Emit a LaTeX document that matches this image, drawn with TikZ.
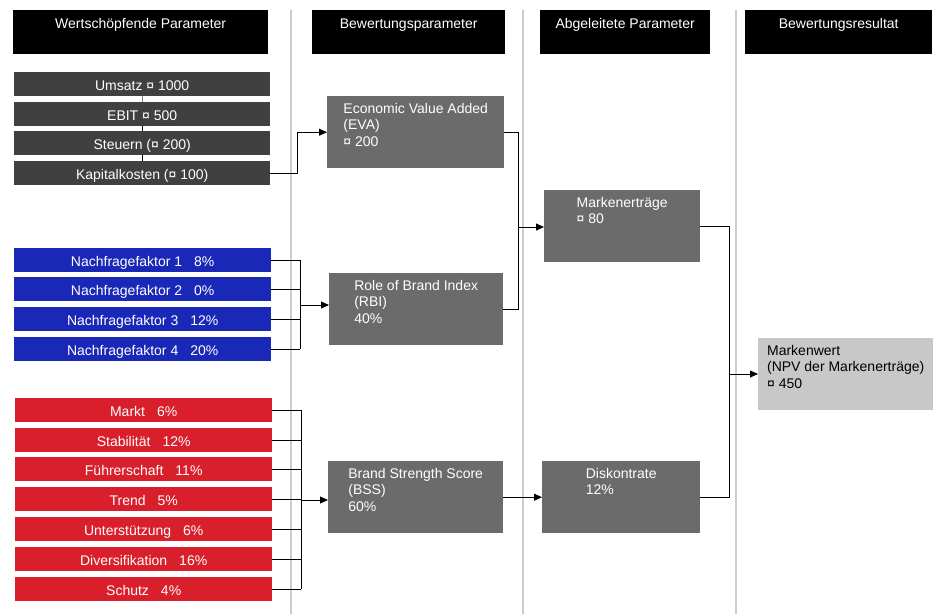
\documentclass[tikz,border=0pt]{standalone}
\usepackage{fontspec}
\setmainfont{Liberation Sans}
\usetikzlibrary{arrows.meta}

\definecolor{valgray}{HTML}{404040}
\definecolor{pargray}{HTML}{6B6B6B}
\definecolor{resgray}{HTML}{C8C8C8}
\definecolor{nfblue}{HTML}{1A28B8}
\definecolor{bsred}{HTML}{D91F2B}
\definecolor{sepgray}{HTML}{CCCCCC}

\tikzset{
  every node/.style={font=\fontsize{14}{16.5}\selectfont, inner sep=0pt},
  hdrbox/.style={fill=black, anchor=north west, minimum height=44},
  bar/.style={anchor=north west, minimum width=256, minimum height=24, text=white,
              text height=13pt, text depth=0pt},
  parbox/.style={fill=pargray, anchor=north west, minimum height=72},
  partext/.style={align=left, text=white, below=7pt},
  conn/.style={-{Triangle[length=8pt,width=7pt]}, line width=0.8pt},
  tie/.style={line width=0.8pt}
}

\begin{document}
\begin{tikzpicture}[x=1pt,y=-1pt]
\useasboundingbox (0,0) rectangle (939,614);

% Trennlinien
\draw[sepgray, line width=2pt] (291,10) -- (291,614);
\draw[sepgray, line width=2pt] (523,10) -- (523,614);
\draw[sepgray, line width=2pt] (736,10) -- (736,614);

% Kopfzeilen
\node[hdrbox, minimum width=255] (h1) at (13,10) {};
\node[hdrbox, minimum width=193] (h2) at (312,10) {};
\node[hdrbox, minimum width=170] (h3) at (540,10) {};
\node[hdrbox, minimum width=187] (h4) at (745,10) {};
\node[white, anchor=base] at ([yshift=-18pt]h1.north) {Wertschöpfende Parameter};
\node[white, anchor=base] at ([yshift=-18pt]h2.north) {Bewertungsparameter};
\node[white, anchor=base] at ([yshift=-18pt]h3.north) {Abgeleitete Parameter};
\node[white, anchor=base] at ([yshift=-18pt]h4.north) {Bewertungsresultat};

% Wertschoepfende Parameter
\node[bar, fill=valgray] (umsatz) at (14,72) {Umsatz ¤ 1000};
\node[bar, fill=valgray] (ebit) at (14,102) {EBIT ¤ 500};
\node[bar, fill=valgray] (steuern) at (14,131) {Steuern (¤ 200)};
\node[bar, fill=valgray] (kapital) at (14,161) {Kapitalkosten (¤ 100)};
\draw[gray, line width=0.8pt] (umsatz.south) -- (ebit.north);
\draw[line width=1.2pt] (ebit.south) -- (steuern.north);
\draw[line width=1.2pt] (steuern.south) -- (kapital.north);

% Nachfragefaktoren
\foreach \i/\y/\t in {1/248/{Nachfragefaktor 1\hspace{12pt}8\%},
                      2/277/{Nachfragefaktor 2\hspace{12pt}0\%},
                      3/307/{Nachfragefaktor 3\hspace{12pt}12\%},
                      4/337/{Nachfragefaktor 4\hspace{12pt}20\%}}
    \node[bar, fill=nfblue, minimum width=257] (nf\i) at (14,\y) {\t};

% Markenstaerke
\foreach \n/\y/\t in {markt/398/{Markt\hspace{12pt}6\%},
                      stab/428/{Stabilität\hspace{12pt}12\%},
                      fuehr/457/{Führerschaft\hspace{12pt}11\%},
                      trend/487/{Trend\hspace{12pt}5\%},
                      unter/517/{Unterstützung\hspace{12pt}6\%},
                      divers/547/{Diversifikation\hspace{12pt}16\%},
                      schutz/577/{Schutz\hspace{12pt}4\%}}
    \node[bar, fill=bsred, minimum width=257] (\n) at (15,\y) {\t};

% Bewertungsparameter
\node[parbox, minimum width=177] (eva) at (327,96) {};
\node[partext] at (eva.north) {Economic Value Added\\(EVA)\\¤ 200};
\node[parbox, minimum width=174] (rbi) at (329,273) {};
\node[partext] at (rbi.north) {Role of Brand Index\\(RBI)\\40\%};
\node[parbox, minimum width=175] (bss) at (328,461) {};
\node[partext] at (bss.north) {Brand Strength Score\\(BSS)\\60\%};

% Abgeleitete Parameter
\node[parbox, minimum width=156] (me) at (544,190) {};
\node[partext] at (me.north) {Markenerträge\\¤ 80};
\node[parbox, minimum width=158] (disk) at (542,461) {};
\node[partext] at (disk.north) {Diskontrate\\12\%};

% Bewertungsresultat
\node[parbox, fill=resgray, minimum width=175] (mw) at (758,338) {};
\node[partext, text=black] at (mw.north) {Markenwert\\(NPV der Markenerträge)\\¤ 450};

% Verbindungen
\draw[conn] (kapital.east) -- ++(27,0) |- (eva.west);

\coordinate (nfjoin) at (300,305);
\foreach \i in {1,...,4}
    \draw[tie] (nf\i.east) -- (nf\i.east -| nfjoin);
\draw[tie] (nf1.east -| nfjoin) -- (nf4.east -| nfjoin);
\draw[conn] (nfjoin) -- (nfjoin -| rbi.west);

\coordinate (bsjoin) at (301,500);
\foreach \n in {markt,stab,fuehr,trend,unter,divers,schutz}
    \draw[tie] (\n.east) -- (\n.east -| bsjoin);
\draw[tie] (markt.east -| bsjoin) -- (schutz.east -| bsjoin);
\draw[conn] (bsjoin) -- (bsjoin -| bss.west);

\coordinate (mejoin) at (518,227);
\draw[tie] (eva.east) -| (mejoin);
\draw[tie] (rbi.east) -| (mejoin);
\draw[conn] (mejoin) -- (mejoin -| me.west);

\draw[conn] (bss.east) -- (disk.west);

\coordinate (mwjoin) at (729,374);
\draw[tie] (me.east) -| (mwjoin);
\draw[tie] (disk.east) -| (mwjoin);
\draw[conn] (mwjoin) -- (mwjoin -| mw.west);
\end{tikzpicture}
\end{document}
